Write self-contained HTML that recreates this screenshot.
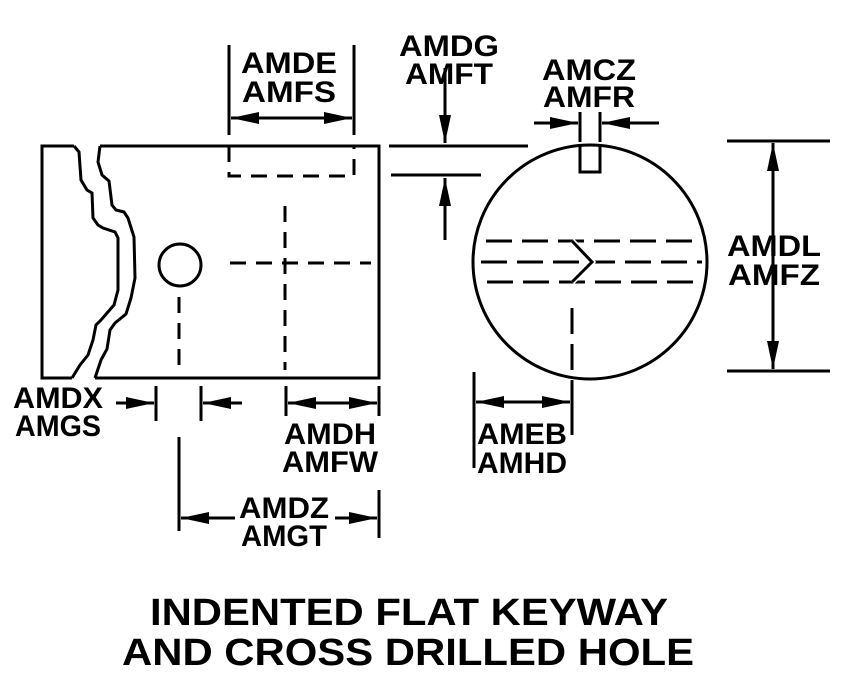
<!DOCTYPE html>
<html><head><style>body{margin:0;background:#fff}svg{display:block}</style></head><body>
<svg width="844" height="678" viewBox="0 0 844 678" xmlns="http://www.w3.org/2000/svg">
<defs>
<marker id="a" markerWidth="30" markerHeight="12" refX="28" refY="6" orient="auto" markerUnits="userSpaceOnUse"><path d="M0,0 L28,6 L0,12 Z" fill="#000"/></marker>
</defs>
<g fill="none" stroke="#000" stroke-width="3">
<path d="M74,146 H42 V378 H72"/>
<path d="M100,146 H379 V378 H95"/>
<path d="M74,146 L79,152 L81,180 L87,190 L92,193 L93,218 L98,225 L103,228 L115,232 L118,238 L118,290 L114,305 L101,320 L96,325 L93,340 L88,355 L80,365 L72,378"/>
<path d="M100,146 L98,162 L102,175 L109,181 L112,205 L116,210 L124,212 L128,218 L134,237 L135,278 L131,298 L126,314 L115,323 L110,330 L107,349 L101,360 L95,378"/>
<circle cx="180" cy="265" r="21"/>
<g stroke-dasharray="16,10">
<path d="M229,146 V176 H354 V146"/>
<path d="M179,297 V370"/>
<path d="M285,206 V370"/>
<path d="M230,263 H371"/>
</g>
<circle cx="590" cy="262" r="117"/>
<path d="M580,146 V172 H600 V146"/>
<g stroke-dasharray="26,10">
<path d="M486,241 H700"/>
<path d="M481,262 H702"/>
<path d="M487,282 H700"/>
<path d="M572,308 V380"/>
</g>
<path d="M572,241 L592,262 L572,282" stroke="#fff" stroke-width="6"/>
<path d="M572,241 L592,262 L572,282"/>
<path d="M389,146 H528"/>
<path d="M391,175 H481"/>
<path d="M445,68 V143" marker-end="url(#a)"/>
<path d="M445,240 V178" marker-end="url(#a)"/>
<path d="M580,112 V142 M600,112 V142"/>
<path d="M534,123 H578" marker-end="url(#a)"/>
<path d="M659,123 H602" marker-end="url(#a)"/>
<path d="M229,45 V135 M354,45 V135"/>
<path d="M292,118 H231" marker-end="url(#a)"/>
<path d="M292,118 H352" marker-end="url(#a)"/>
<path d="M727,141 H830 M727,371 H830"/>
<path d="M773,256 V143" marker-end="url(#a)"/>
<path d="M773,256 V369" marker-end="url(#a)"/>
<path d="M156,386 V421 M201,386 V421"/>
<path d="M116,403 H154" marker-end="url(#a)"/>
<path d="M242,403 H203" marker-end="url(#a)"/>
<path d="M286,386 V416 M379,386 V416"/>
<path d="M332,403 H288" marker-end="url(#a)"/>
<path d="M332,403 H377" marker-end="url(#a)"/>
<path d="M179,437 V531 M379,490 V538"/>
<path d="M235,518 H181" marker-end="url(#a)"/>
<path d="M335,518 H377" marker-end="url(#a)"/>
<path d="M474,372 V468 M572,380 V435"/>
<path d="M522,402 H476" marker-end="url(#a)"/>
<path d="M522,402 H570" marker-end="url(#a)"/>
</g>
<g font-family="Liberation Sans, sans-serif" font-weight="bold" font-size="30" fill="#000" text-anchor="middle" lengthAdjust="spacingAndGlyphs">
<text x="289" y="73" textLength="96" lengthAdjust="spacingAndGlyphs">AMDE</text><text x="289" y="102" textLength="94" lengthAdjust="spacingAndGlyphs">AMFS</text>
<text x="449" y="56" textLength="100" lengthAdjust="spacingAndGlyphs">AMDG</text><text x="449" y="84" textLength="88" lengthAdjust="spacingAndGlyphs">AMFT</text>
<text x="589" y="80" textLength="94" lengthAdjust="spacingAndGlyphs">AMCZ</text><text x="589" y="107" textLength="92" lengthAdjust="spacingAndGlyphs">AMFR</text>
<text x="774" y="256" textLength="94" lengthAdjust="spacingAndGlyphs">AMDL</text><text x="774" y="285" textLength="92" lengthAdjust="spacingAndGlyphs">AMFZ</text>
<text x="58" y="408" textLength="90" lengthAdjust="spacingAndGlyphs">AMDX</text><text x="58" y="436" textLength="86" lengthAdjust="spacingAndGlyphs">AMGS</text>
<text x="330" y="444" textLength="92" lengthAdjust="spacingAndGlyphs">AMDH</text><text x="330" y="472" textLength="96" lengthAdjust="spacingAndGlyphs">AMFW</text>
<text x="522" y="444" textLength="90" lengthAdjust="spacingAndGlyphs">AMEB</text><text x="522" y="473" textLength="90" lengthAdjust="spacingAndGlyphs">AMHD</text>
<text x="284" y="518" textLength="90" lengthAdjust="spacingAndGlyphs">AMDZ</text><text x="284" y="546" textLength="86" lengthAdjust="spacingAndGlyphs">AMGT</text>
<text x="409" y="625" font-size="38" textLength="518" lengthAdjust="spacingAndGlyphs">INDENTED FLAT KEYWAY</text>
<text x="408" y="665" font-size="38" textLength="572" lengthAdjust="spacingAndGlyphs">AND CROSS DRILLED HOLE</text>
</g>
</svg>
</body></html>
